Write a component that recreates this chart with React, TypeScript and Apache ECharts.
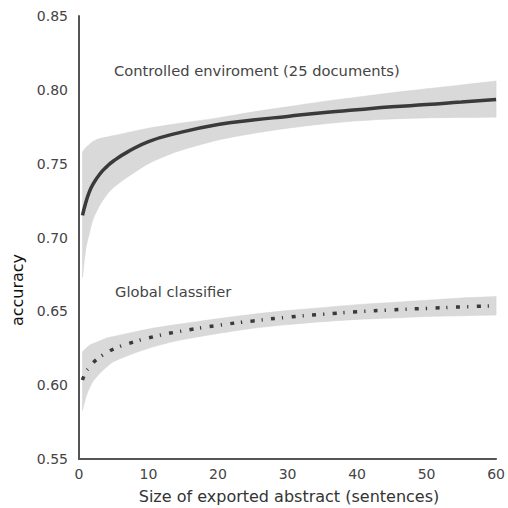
import React, { useEffect, useRef } from "react";
import * as echarts from "echarts";

const xs = [0.5, 1, 1.5, 2, 3, 4, 5, 7, 10, 14, 20, 25, 30, 35, 40, 45, 50, 55, 60];

const controlledMean = [0.715, 0.724, 0.731, 0.736, 0.743, 0.748, 0.752, 0.758, 0.765, 0.7705, 0.7765, 0.7795, 0.782, 0.7845, 0.7865, 0.7885, 0.790, 0.7918, 0.7935];
const controlledUpper = [0.758, 0.761, 0.763, 0.765, 0.767, 0.768, 0.769, 0.771, 0.774, 0.777, 0.781, 0.785, 0.7885, 0.792, 0.795, 0.798, 0.8007, 0.8033, 0.806];
const controlledLower = [0.673, 0.693, 0.703, 0.712, 0.722, 0.729, 0.734, 0.741, 0.75, 0.758, 0.766, 0.7705, 0.774, 0.7768, 0.779, 0.7803, 0.781, 0.7813, 0.7815];

const globalMean = [0.6035, 0.609, 0.612, 0.615, 0.619, 0.622, 0.6245, 0.628, 0.632, 0.636, 0.6405, 0.6435, 0.646, 0.648, 0.6497, 0.651, 0.652, 0.653, 0.6538];
const globalUpper = [0.6225, 0.625, 0.627, 0.628, 0.63, 0.632, 0.633, 0.635, 0.638, 0.641, 0.645, 0.648, 0.6505, 0.6525, 0.6545, 0.656, 0.6575, 0.659, 0.66];
const globalLower = [0.583, 0.592, 0.598, 0.6025, 0.608, 0.6125, 0.616, 0.62, 0.625, 0.63, 0.635, 0.6385, 0.641, 0.643, 0.6445, 0.6455, 0.6465, 0.647, 0.6475];

const xTicks = [0, 10, 20, 30, 40, 50, 60];
const yTicks = [0.55, 0.6, 0.65, 0.7, 0.75, 0.8, 0.85];

const labels = {
  controlled: "Controlled enviroment (25 documents)",
  global: "Global classifier",
  xName: "Size of exported abstract (sentences)",
  yName: "accuracy",
};

const FONT = '"DejaVu Sans", sans-serif';

function bandSeries(upper: number[], lower: number[]) {
  return {
    type: "custom",
    silent: true,
    z: 1,
    data: [[xs[0], upper[0]]],
    renderItem: (params: any, api: any) => {
      if (params.dataIndex !== 0) return null;
      const top = xs.map((x, i) => api.coord([x, upper[i]]));
      const bot = xs.map((x, i) => api.coord([x, lower[i]])).reverse();
      // duplicate corner points so the smoothing keeps the band's ends straight
      const pts: number[][] = [
        top[0],
        ...top,
        top[top.length - 1],
        bot[0],
        ...bot,
        bot[bot.length - 1],
      ];
      let minX = Infinity, minY = Infinity, maxX = -Infinity, maxY = -Infinity;
      pts.forEach((p) => {
        minX = Math.min(minX, p[0]);
        minY = Math.min(minY, p[1]);
        maxX = Math.max(maxX, p[0]);
        maxY = Math.max(maxY, p[1]);
      });
      return {
        type: "polygon",
        shape: {
          points: pts,
          smooth: 0.25,
          smoothConstraint: [
            [minX, minY],
            [maxX, maxY],
          ],
        },
        style: { fill: "#d9d9d9", stroke: "#d0d0d0", lineWidth: 0.5 },
      };
    },
  };
}

export default function App() {
  const ref = useRef<HTMLDivElement>(null);
  useEffect(() => {
    if (!ref.current) return;
    const chart = echarts.init(ref.current, null, { renderer: "svg" });
    chart.setOption({
      animation: false,
      backgroundColor: "#ffffff",
      grid: { left: 79, right: 7, top: 16, bottom: 49, containLabel: false },
      xAxis: {
        type: "value",
        min: xTicks[0],
        max: xTicks[xTicks.length - 1],
        interval: 10,
        axisLine: { show: true, lineStyle: { color: "#555555", width: 2 } },
        axisTick: { show: false },
        splitLine: { show: false },
        axisLabel: { color: "#444444", fontSize: 14, fontFamily: FONT, margin: 8 },
      },
      yAxis: {
        type: "value",
        min: yTicks[0],
        max: yTicks[yTicks.length - 1],
        interval: 0.05,
        axisLine: { show: true, lineStyle: { color: "#555555", width: 2 } },
        axisTick: { show: false },
        splitLine: { show: false },
        axisLabel: {
          color: "#444444",
          fontSize: 14,
          fontFamily: FONT,
          margin: 11,
          formatter: (v: number) => v.toFixed(2),
        },
      },
      series: [
        bandSeries(controlledUpper, controlledLower),
        bandSeries(globalUpper, globalLower),
        {
          type: "line",
          z: 3,
          smooth: true,
          showSymbol: false,
          silent: true,
          data: xs.map((x, i) => [x, controlledMean[i]]),
          lineStyle: { color: "#3a3a3a", width: 3.5 },
        },
        {
          type: "line",
          z: 3,
          smooth: true,
          showSymbol: false,
          silent: true,
          data: xs.map((x, i) => [x, globalMean[i]]),
          lineStyle: { color: "#3a3a3a", width: 3.5, type: [4, 7, 1.2, 8.4], cap: "butt" },
        },
      ],
      graphic: [
        {
          type: "text",
          z: 100,
          x: 114,
          y: 70,
          style: { text: labels.controlled, font: `14.7px ${FONT}`, fill: "#444444", verticalAlign: "middle" },
        },
        {
          type: "text",
          z: 100,
          x: 115,
          y: 291,
          style: { text: labels.global, font: `14.7px ${FONT}`, fill: "#444444", verticalAlign: "middle" },
        },
        {
          type: "text",
          z: 100,
          x: 289,
          y: 496,
          style: { text: labels.xName, font: `16px ${FONT}`, fill: "#333333", align: "center", verticalAlign: "middle" },
        },
        {
          type: "text",
          z: 100,
          x: 17,
          y: 290,
          rotation: Math.PI / 2,
          style: { text: labels.yName, font: `16px ${FONT}`, fill: "#111111", align: "center", verticalAlign: "middle" },
        },
      ],
    });
    return () => chart.dispose();
  }, []);
  return <div ref={ref} style={{ width: 508, height: 508, position: "absolute", left: 0, top: 0 }} />;
}
